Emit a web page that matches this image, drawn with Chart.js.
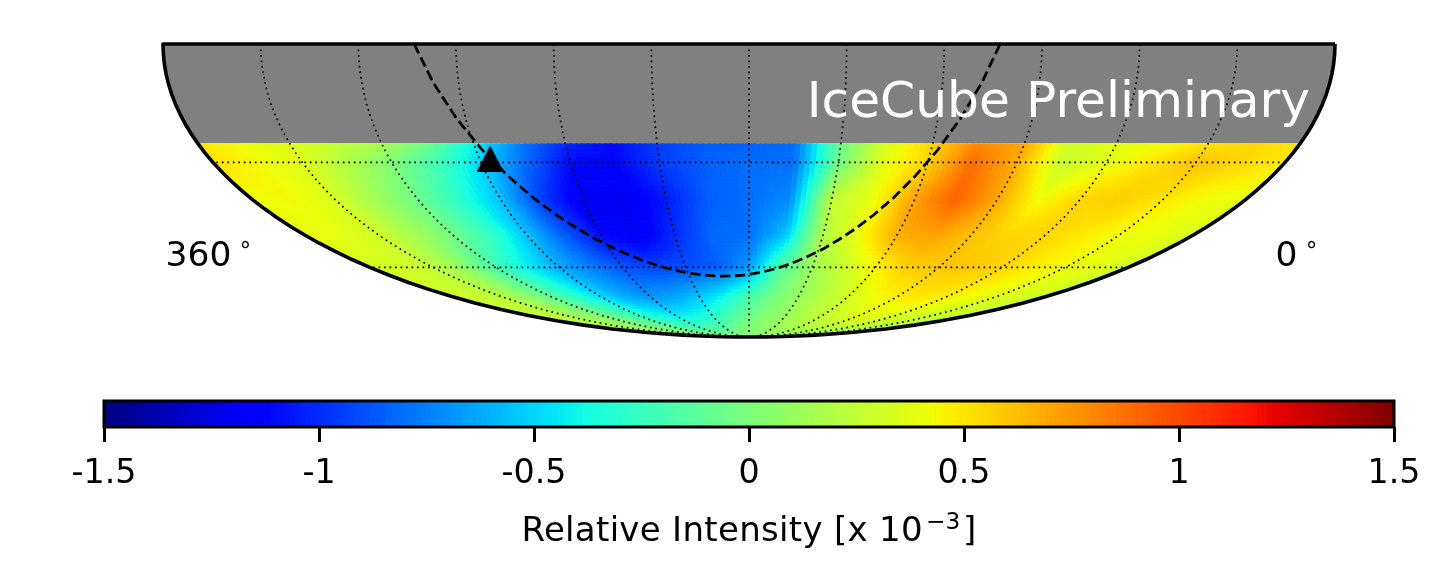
<!DOCTYPE html>
<html>
<head>
<meta charset="utf-8">
<script src="https://cdn.jsdelivr.net/npm/chart.js@4"></script>
<style>
html,body{margin:0;padding:0;background:#fff;width:1451px;height:580px;overflow:hidden}
canvas{position:absolute;left:0;display:block}
#map{top:0}
#bar{top:380px}
</style>
</head>
<body>
<canvas id="map" width="1451" height="380"></canvas>
<canvas id="bar" width="1451" height="200"></canvas>
<script>
// ---- data ----
const RA_NODES = [360,345,330,315,300,285,270,255,240,225,210,195,180,165,150,135,120,105,90,75,60,45,30,15,0];
const DEC_NODES = [-25,-30,-40,-50,-60,-70,-80,-90];
const I_M25 = [.5,.42,.36,.26,.18,-.05,-.4,-.75,-1.0,-1.1,-.95,-.85,-.85,-.8,-.05,.35,.55,.8,.7,.3,.38,.42,.5,.55,.5];
const I_M30 = [.52,.43,.37,.2,.02,-.2,-.5,-.8,-1.1,-1.12,-.95,-.85,-.8,-.8,-.05,.38,.55,.88,.68,.28,.38,.5,.62,.55,.48];
const I_M40 = [.4,.44,.34,.13,-.05,-.3,-.55,-.95,-1.2,-1.2,-1.05,-.85,-.8,-.72,.25,.4,.72,.92,.7,.42,.55,.58,.5,.42,.4];
const I_M50 = [.4,.38,.31,.15,-.02,-.25,-.55,-.85,-1.1,-1.2,-1.0,-.82,-.8,-.55,.2,.42,.68,.72,.62,.55,.55,.48,.42,.4,.35];
const I_M60 = [.33,.32,.26,.08,-.2,-.42,-.62,-.75,-.88,-.92,-.9,-.85,-.68,-.15,.12,.28,.45,.58,.6,.6,.55,.48,.42,.38,.3];
const I_M70 = [.3,.28,.22,.08,-.1,-.3,-.48,-.62,-.7,-.65,-.55,-.4,-.2,-.02,.1,.22,.32,.42,.48,.5,.48,.42,.38,.34,.28];
const I_M80 = [.25,.24,.2,.12,.02,-.08,-.2,-.3,-.35,-.32,-.25,-.12,0,.05,.12,.18,.24,.28,.32,.33,.32,.3,.28,.26,.24];
const I_M90 = [.05,.05,.05,.05,.05,.05,.05,.05,.05,.05,.05,.05,.05,.05,.05,.05,.05,.05,.05,.05,.05,.05,.05,.05,.05];
const INTENSITY = [I_M25,I_M30,I_M40,I_M50,I_M60,I_M70,I_M80,I_M90];

const MERIDIAN_RA = [30,60,90,120,150,180,210,240,270,300,330];
const PARALLEL_DEC = [-30,-60];
const PARALLEL_RA = [0,15,30,45,60,75,90,105,120,135,150,165,180,195,210,225,240,255,270,285,300,315,330,345,360];
const MERIDIAN_DEC = [0,-2.5,-5,-7.5,-10,-12.5,-15,-17.5,-20,-22.5,-25,-27.5,-30,-32.5,-35,-37.5,-40,-42.5,-45,-47.5,-50,-52.5,-55,-57.5,-60,-62.5,-65,-67.5,-70,-72.5,-75,-77.5,-80,-82,-84,-86,-87,-88,-88.5,-89,-89.5,-89.8,-89.95,-90];
const MASK_DEC = -25;

const PLANE_RA = [282.86,277.86,272.86,267.86,262.86,257.86,252.86,247.86,242.86,237.86,232.86,227.86,222.86,217.86,212.86,207.86,202.86,197.86,192.86,187.86,182.86,177.86,172.86,167.86,162.86,157.86,152.86,147.86,142.86,137.86,132.86,127.86,122.86,117.86,112.86,107.86,102.86];
const PLANE_DEC = [0,-9.65,-18.7,-26.8,-33.7,-39.5,-44.3,-48.2,-51.4,-54.07,-56.2,-57.98,-59.4,-60.52,-61.4,-62.05,-62.51,-62.78,-62.87,-62.78,-62.51,-62.05,-61.4,-60.52,-59.4,-57.98,-56.2,-54.07,-51.4,-48.2,-44.3,-39.5,-33.7,-26.8,-18.7,-9.65,0];
const GC_RA = [266.4];
const GC_DEC = [-29];

const CB_TICKS = [-1.5,-1,-0.5,0,0.5,1,1.5];
const CB_LABELS = ['-1.5','-1','-0.5','0','0.5','1','1.5'];
const CB_TITLE_MAIN = 'Relative Intensity [x 10';
const CB_TITLE_EXP = '\u22123';
const CB_TITLE_END = ']';
const TXT_BANNER = 'IceCube Preliminary';
const TXT_LEFT = '360';
const TXT_RIGHT = '0';
const TXT_DEG = '\u00B0';

// ---- helpers ----
const FONT = '"DejaVu Sans"';
function thetaOf(dec){
  const target = Math.PI*Math.sin(Math.abs(dec)*Math.PI/180);
  let lo=0, hi=Math.PI/2;
  for(let i=0;i<50;i++){const m=(lo+hi)/2; if(2*m+Math.sin(2*m)<target) lo=m; else hi=m;}
  return (lo+hi)/2*(dec<0?-1:1);
}
function moll(ra,dec){
  const t=thetaOf(dec);
  return {x:-(ra-180)/180*2*Math.SQRT2*Math.cos(t), y:Math.SQRT2*Math.sin(t)};
}
function lerpStops(st,t){
  for(let i=1;i<st.length;i++){
    if(t<=st[i][0]){const a=st[i-1],b=st[i];return a[1]+(b[1]-a[1])*(t-a[0])/(b[0]-a[0]);}
  }
  return st[st.length-1][1];
}
const JR=[[0,0],[.35,0],[.66,1],[.89,1],[1,.5]];
const JG=[[0,0],[.125,0],[.375,1],[.64,1],[.91,0],[1,0]];
const JB=[[0,.5],[.11,1],[.34,1],[.65,0],[1,0]];
function jet(v){
  const t=Math.max(0,Math.min(1,(v+1.5)/3));
  return 'rgb('+Math.round(255*lerpStops(JR,t))+','+Math.round(255*lerpStops(JG,t))+','+Math.round(255*lerpStops(JB,t))+')';
}

// ---- map chart ----
const UNIT = 586/(2*Math.SQRT2);
const mapW=1451, mapH=380, cx=749, top0=44;

const lineDatasets=[];
MERIDIAN_RA.forEach(ra=>lineDatasets.push({
  label:'RA '+ra, data:MERIDIAN_DEC.map(d=>moll(ra,d)),
  showLine:true,pointRadius:0,borderColor:'#000',borderWidth:1.7,borderDash:[1.7,3.8],fill:false
}));
PARALLEL_DEC.forEach(dec=>lineDatasets.push({
  label:'Dec '+dec, data:PARALLEL_RA.map(r=>moll(r,dec)),
  showLine:true,pointRadius:0,borderColor:'#000',borderWidth:1.7,borderDash:[1.7,3.8],fill:false
}));
lineDatasets.push({
  label:'Galactic plane', data:PLANE_RA.map((r,i)=>moll(r,PLANE_DEC[i])),
  showLine:true,pointRadius:0,borderColor:'#000',borderWidth:2.8,borderDash:[10.4,4.5],fill:false
});
const tri=document.createElement('canvas');tri.width=27;tri.height=26;
(function(){const c=tri.getContext('2d');c.fillStyle='#000';c.beginPath();c.moveTo(13.5,0);c.lineTo(27,26);c.lineTo(0,26);c.closePath();c.fill();})();
lineDatasets.push({
  label:'Galactic centre', data:GC_RA.map((r,i)=>moll(r,GC_DEC[i])),
  showLine:false,pointStyle:tri,pointRadius:13,backgroundColor:'#000',borderColor:'#000',clip:false
});
const outline=[];
MERIDIAN_DEC.forEach(d=>outline.push(moll(0,d)));
MERIDIAN_DEC.slice().reverse().forEach(d=>outline.push(moll(360,d)));
outline.push(moll(0,0));
lineDatasets.push({
  label:'Border', data:outline, showLine:true,pointRadius:0,borderColor:'#000',borderWidth:3.6,fill:false,clip:false,
  borderJoinStyle:'round'
});

const heatPlugin={
  id:'heat',
  beforeDatasetsDraw(chart){
    const {ctx,scales:{x,y}}=chart;
    const px=(ra,dec)=>{const m=moll(ra,dec);return [x.getPixelForValue(m.x),y.getPixelForValue(m.y)];};
    const region=(d0,d1)=>{
      const decs=MERIDIAN_DEC.filter(d=>d<=d0&&d>=d1);
      if(decs[0]!==d0) decs.unshift(d0);
      ctx.beginPath();
      decs.forEach((d,i)=>{const p=px(0,d); i?ctx.lineTo(p[0],p[1]):ctx.moveTo(p[0],p[1]);});
      decs.slice().reverse().forEach(d=>{const p=px(360,d);ctx.lineTo(p[0],p[1]);});
      ctx.closePath();
    };
    ctx.save();
    region(0,MASK_DEC); ctx.fillStyle='#808080'; ctx.fill();
    ctx.restore();
    ctx.save();
    region(MASK_DEC,-90); ctx.clip();
    const N=8,M=8;
    for(let i=0;i<DEC_NODES.length-1;i++){
      for(let j=0;j<RA_NODES.length-1;j++){
        const d0=DEC_NODES[i],d1=DEC_NODES[i+1],r0=RA_NODES[j],r1=RA_NODES[j+1];
        const a=INTENSITY[i][j],b=INTENSITY[i][j+1],c=INTENSITY[i+1][j],e=INTENSITY[i+1][j+1];
        for(let n=0;n<N;n++){
          for(let m=0;m<M;m++){
            const u=(m+.5)/M,w=(n+.5)/N;
            const v=(a*(1-u)+b*u)*(1-w)+(c*(1-u)+e*u)*w;
            const D0=d0+(d1-d0)*n/N,D1=d0+(d1-d0)*(n+1)/N,R0=r0+(r1-r0)*m/M,R1=r0+(r1-r0)*(m+1)/M;
            const p=[px(R0,D0),px(R1,D0),px(R1,D1),px(R0,D1)];
            ctx.beginPath();ctx.moveTo(p[0][0],p[0][1]);ctx.lineTo(p[1][0],p[1][1]);ctx.lineTo(p[2][0],p[2][1]);ctx.lineTo(p[3][0],p[3][1]);ctx.closePath();
            const col=jet(v);ctx.fillStyle=col;ctx.strokeStyle=col;ctx.lineWidth=1;ctx.fill();ctx.stroke();
          }
        }
      }
    }
    ctx.restore();
  },
  afterDatasetsDraw(chart){
    const {ctx}=chart;
    ctx.save();
    ctx.textBaseline='alphabetic';
    ctx.fillStyle='#fff';ctx.font='50.3px '+FONT;ctx.textAlign='right';
    ctx.fillText(TXT_BANNER,1310,116.5);
    ctx.fillStyle='#000';ctx.font='34.5px '+FONT;ctx.textAlign='left';
    ctx.fillText(TXT_LEFT,165.5,265.5);
    ctx.fillText(TXT_RIGHT,1275.5,265.5);
    ctx.font='23.3px '+FONT;
    ctx.fillText(TXT_DEG,239.5,257.5);
    ctx.fillText(TXT_DEG,1305.8,257.5);
    ctx.restore();
  }
};

new Chart(document.getElementById('map'),{
  type:'scatter',
  data:{datasets:lineDatasets},
  plugins:[heatPlugin],
  options:{
    responsive:false,animation:false,devicePixelRatio:1,
    layout:{padding:0,autoPadding:false},
    plugins:{legend:{display:false},tooltip:{enabled:false}},
    elements:{line:{tension:0}},
    scales:{
      x:{type:'linear',display:false,min:-cx/UNIT,max:(mapW-cx)/UNIT},
      y:{type:'linear',display:false,min:-(mapH-top0)/UNIT,max:top0/UNIT}
    }
  }
});

// ---- colour bar chart ----
const CB_LEVELS=256;
const cbVals=[];
for(let i=0;i<CB_LEVELS;i++){cbVals.push(-1.5+3*(i+.5)/CB_LEVELS);}
const framePlugin={
  id:'frame',
  afterDatasetsDraw(chart){
    const {ctx,chartArea:a}=chart;
    ctx.save();ctx.strokeStyle='#000';ctx.lineWidth=3;
    ctx.strokeRect(a.left,a.top,a.right-a.left,a.bottom-a.top);
    ctx.restore();
    ctx.save();
    const base=160.7, x0=521.5;
    ctx.fillStyle='#000';ctx.textBaseline='alphabetic';ctx.textAlign='left';
    ctx.font='34px '+FONT;ctx.letterSpacing='0.3px';
    ctx.fillText(CB_TITLE_MAIN,x0,base);
    ctx.letterSpacing='0px';
    ctx.font='23.3px '+FONT;ctx.fillText(CB_TITLE_EXP,926,base-12);
    ctx.font='34px '+FONT;ctx.fillText(CB_TITLE_END,963,base);
    ctx.restore();
  }
};
new Chart(document.getElementById('bar'),{
  type:'bar',
  data:{datasets:[{
    label:'Relative Intensity',
    data:cbVals.map(v=>({x:v,y:1})),
    backgroundColor:cbVals.map(jet),
    borderWidth:0,barThickness:6.2
  }]},
  plugins:[framePlugin],
  options:{
    responsive:false,animation:false,devicePixelRatio:1,
    layout:{padding:{left:104,right:57,top:21,bottom:93},autoPadding:false},
    plugins:{legend:{display:false},tooltip:{enabled:false}},
    scales:{
      x:{
        type:'linear',min:-1.5,max:1.5,offset:false,
        afterBuildTicks(s){s.ticks=CB_TICKS.map(v=>({value:v}));},
        afterFit(s){s.height=60;s.paddingLeft=0;s.paddingRight=0;},
        grid:{display:true,offset:false,drawOnChartArea:false,drawTicks:true,tickLength:15,tickWidth:3,tickColor:'#000'},
        border:{display:false},
        ticks:{color:'#000',font:{family:'DejaVu Sans',size:33.3},maxRotation:0,autoSkip:false,padding:12,
          callback(v){const i=CB_TICKS.indexOf(v);return i>=0?CB_LABELS[i]:'';}}
      },
      y:{type:'linear',display:false,min:0,max:1}
    }
  }
});
</script>
</body>
</html>
